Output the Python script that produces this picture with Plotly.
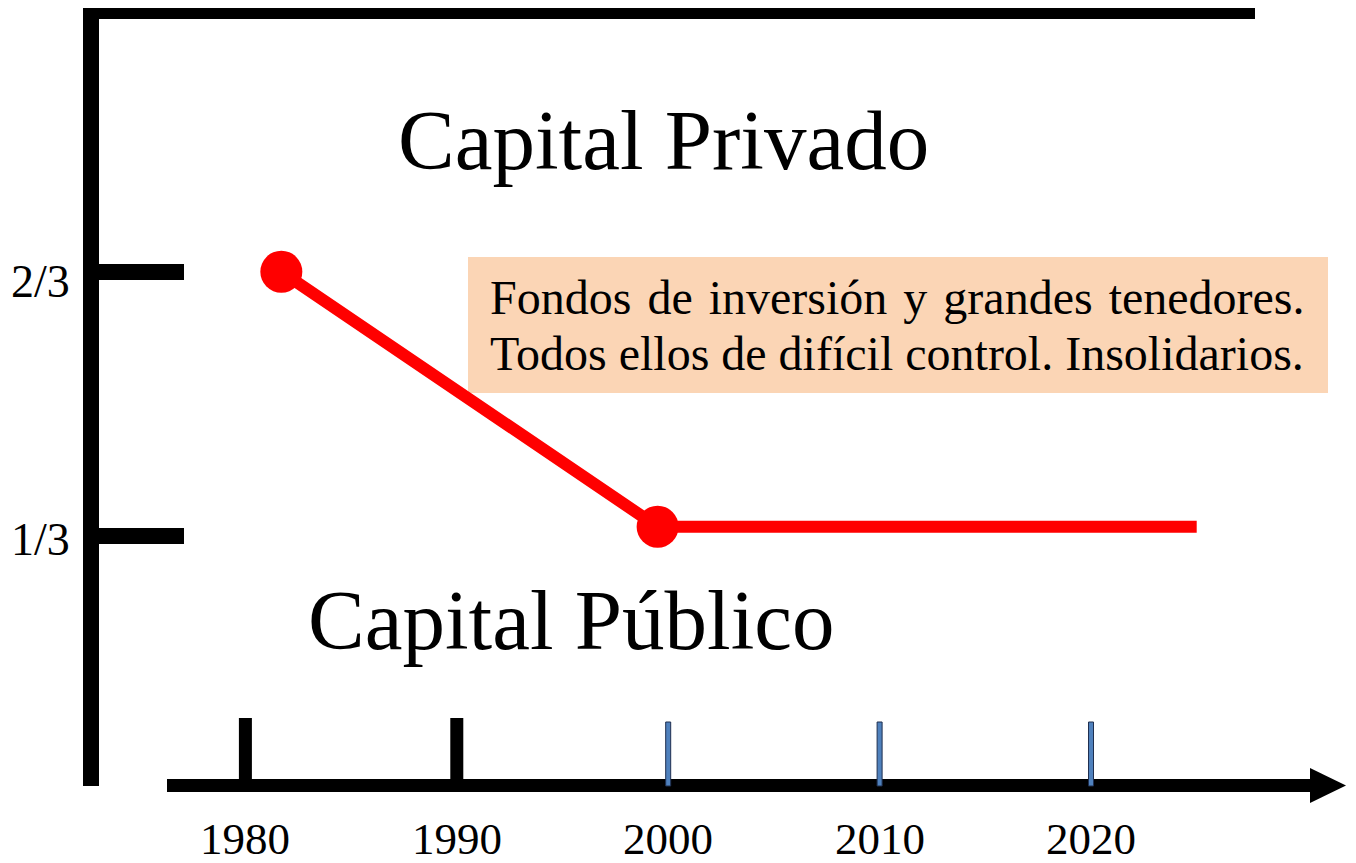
import plotly.graph_objects as go

# the page body has an 8px margin; the figure is sized so it fills the window exactly
OFF = 8
W, H = 1356 - OFF, 863 - OFF

# ---- data ----
years = [1981.7, 1999.5, 2025.0]
private_share = [0.667, 0.345, 0.345]
marker_years = years[:2]
marker_share = private_share[:2]

x_ticks = [1980, 1990, 2000, 2010, 2020]
x_tick_labels = ["1980", "1990", "2000", "2010", "2020"]
x_tick_colors = ["black", "black", "#4F81BD", "#4F81BD", "#4F81BD"]
y_ticks = [2 / 3, 1 / 3]
y_tick_labels = ["2/3", "1/3"]

label_top = "Capital Privado"
label_bottom = "Capital Público"
note_lines = [
    "Fondos de inversión y grandes tenedores.",
    "Todos ellos de difícil control. Insolidarios.",
]

FONT = "Liberation Serif, Times New Roman, serif"

# ---- scales (screen pixel <-> data) ----
X0_YEAR, X0_PX, PX_PER_YEAR = 2000, 668.2 - OFF, 21.14
Y0_VAL, Y0_PX, PX_PER_UNIT = 1 / 3, 536 - OFF, 792

xrange = [X0_YEAR - X0_PX / PX_PER_YEAR, X0_YEAR + (W - X0_PX) / PX_PER_YEAR]
yrange = [Y0_VAL - (H - Y0_PX) / PX_PER_UNIT, Y0_VAL + Y0_PX / PX_PER_UNIT]


def px_x(p):
    return xrange[0] + (p - OFF) / PX_PER_YEAR


def px_y(p):
    return yrange[1] - (p - OFF) / PX_PER_UNIT


def dx(p):
    return p / PX_PER_YEAR


fig = go.Figure()

fig.add_trace(go.Scatter(
    x=years, y=private_share, mode="lines",
    line=dict(color="#FF0000", width=12), hoverinfo="skip",
))
fig.add_trace(go.Scatter(
    x=marker_years, y=marker_share, mode="markers",
    marker=dict(color="#FF0000", size=42, line=dict(width=0)), hoverinfo="skip",
))

shapes = []
# note box
shapes.append(dict(type="rect", xref="x", yref="y",
                   x0=px_x(468), x1=px_x(1328), y0=px_y(393), y1=px_y(257),
                   fillcolor="#FBD5B5", line=dict(width=0), layer="below"))
# top frame line
shapes.append(dict(type="line", xref="x", yref="y",
                   x0=px_x(83), x1=px_x(1255), y0=px_y(13), y1=px_y(13),
                   line=dict(color="black", width=12)))
# left vertical axis
shapes.append(dict(type="line", xref="x", yref="y",
                   x0=px_x(91), x1=px_x(91), y0=px_y(7), y1=px_y(786),
                   line=dict(color="black", width=16)))
# bottom x axis shaft
shapes.append(dict(type="line", xref="x", yref="y",
                   x0=px_x(167), x1=px_x(1315), y0=px_y(785.5), y1=px_y(785.5),
                   line=dict(color="black", width=13)))
# arrow head
shapes.append(dict(type="path", xref="x", yref="y",
                   path=(f"M {px_x(1310)} {px_y(768)} L {px_x(1346)} {px_y(785.5)} "
                         f"L {px_x(1310)} {px_y(803)} Z"),
                   fillcolor="black", line=dict(width=0)))
# x ticks
for yr, col in zip(x_ticks, x_tick_colors):
    if col == "black":
        shapes.append(dict(type="rect", xref="x", yref="y",
                           x0=yr - dx(6.5), x1=yr + dx(6.5),
                           y0=px_y(786), y1=px_y(718),
                           fillcolor="black", line=dict(width=0)))
    else:
        shapes.append(dict(type="rect", xref="x", yref="y",
                           x0=yr - dx(2.5), x1=yr + dx(2.5),
                           y0=px_y(786), y1=px_y(722),
                           fillcolor=col, line=dict(color="#1F2F4F", width=1)))
# y ticks
for v in y_ticks:
    shapes.append(dict(type="line", xref="x", yref="y",
                       x0=px_x(97), x1=px_x(184), y0=v, y1=v,
                       line=dict(color="black", width=16)))

annotations = []
for yr, lab in zip(x_ticks, x_tick_labels):
    annotations.append(dict(x=yr, y=px_y(839), xref="x", yref="y", text=lab,
                            showarrow=False, xanchor="center", yanchor="middle",
                            height=44, valign="middle",
                            font=dict(family=FONT, size=45, color="black")))
for v, lab, off in zip(y_ticks, y_tick_labels, [9, 3]):
    annotations.append(dict(x=px_x(9), y=v - off / PX_PER_UNIT, xref="x", yref="y",
                            text=lab, showarrow=False, xanchor="left", yanchor="middle",
                            font=dict(family=FONT, size=46, color="black")))
annotations.append(dict(x=px_x(396), y=px_y(140), xref="x", yref="y", text=label_top,
                        showarrow=False, xanchor="left", yanchor="middle",
                        font=dict(family=FONT, size=85, color="black")))
annotations.append(dict(x=px_x(306), y=px_y(620), xref="x", yref="y", text=label_bottom,
                        showarrow=False, xanchor="left", yanchor="middle",
                        font=dict(family=FONT, size=85, color="black")))
line1 = note_lines[0].replace(" ", " \u200a")
for txt, cy in zip([line1, note_lines[1]], [297, 353]):
    annotations.append(dict(x=px_x(488), y=px_y(cy), xref="x", yref="y", text=txt,
                            showarrow=False, xanchor="left", yanchor="middle",
                            font=dict(family=FONT, size=48, color="black")))

fig.update_layout(
    width=W, height=H,
    margin=dict(l=0, r=0, t=0, b=0),
    paper_bgcolor="white", plot_bgcolor="white",
    showlegend=False,
    xaxis=dict(range=xrange, visible=False, fixedrange=True),
    yaxis=dict(range=yrange, visible=False, fixedrange=True),
    shapes=shapes, annotations=annotations,
)

fig.write_html("out.html")
